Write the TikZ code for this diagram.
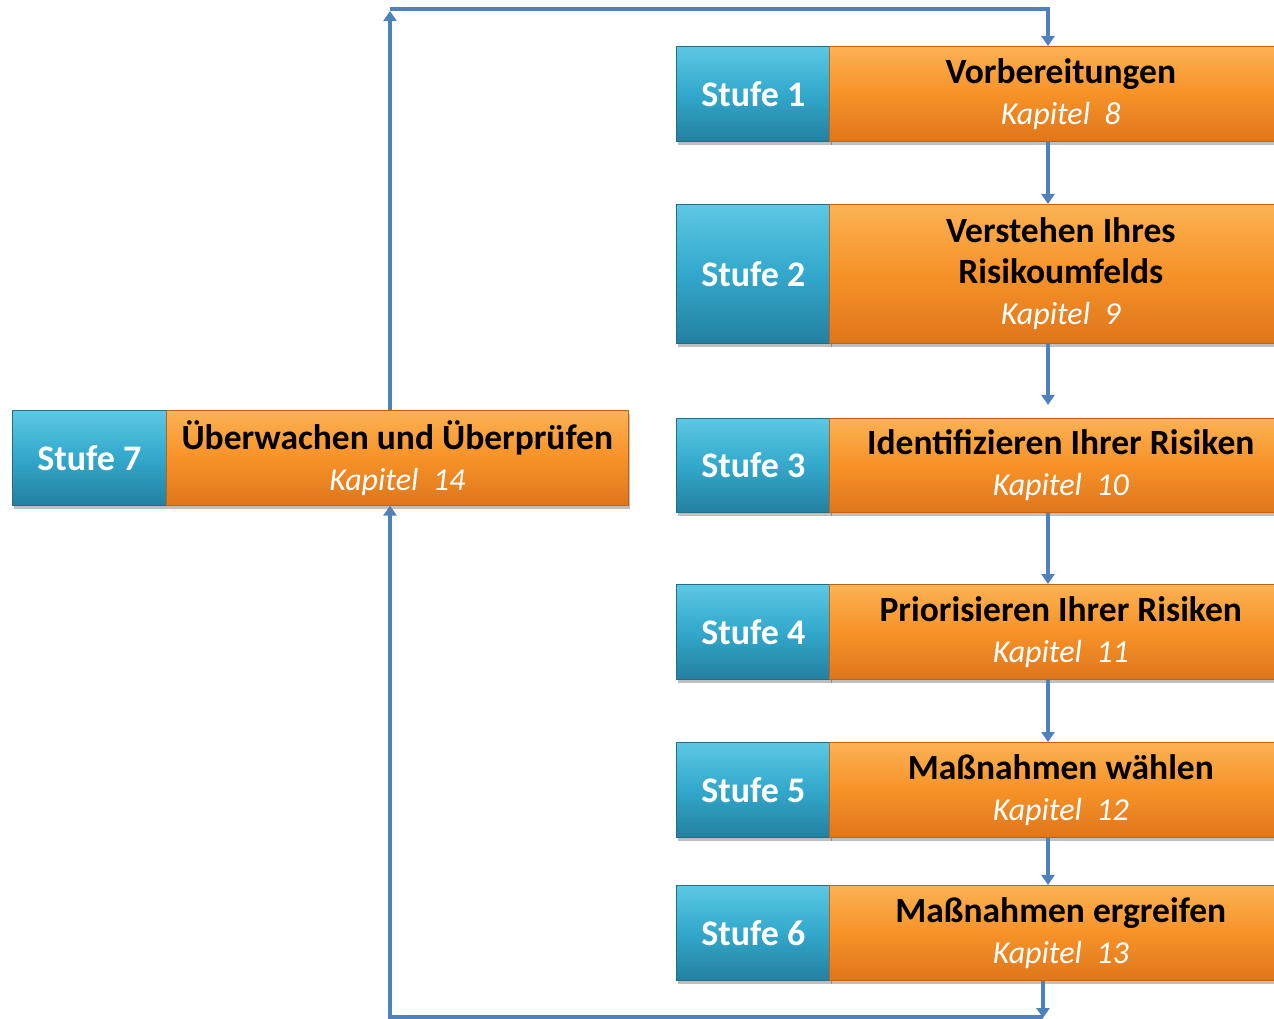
\documentclass[tikz,border=0pt]{standalone}
\usepackage{fontspec}
\setmainfont{Carlito}
\usetikzlibrary{arrows.meta,shadows}
\definecolor{tealA}{RGB}{92,200,228}
\definecolor{tealB}{RGB}{50,168,204}
\definecolor{tealC}{RGB}{36,128,160}
\definecolor{orA}{RGB}{252,178,84}
\definecolor{orB}{RGB}{247,146,40}
\definecolor{orC}{RGB}{222,118,28}
\definecolor{lineblue}{RGB}{79,129,189}
\newcommand{\kap}[1]{{\color{white}\fontsize{32}{41}\selectfont\mdseries\itshape Kapitel\hspace{0.45em}#1}}
\tikzset{
  boxbase/.style={rectangle, inner sep=0pt, anchor=north west,
    drop shadow={shadow xshift=2pt, shadow yshift=-4pt, opacity=0.25, fill=black}},
  stufebox/.style={boxbase, minimum width=154pt,
    top color=tealA, bottom color=tealC, middle color=tealB,
    draw=tealC!85!black, line width=0.6pt, text=white,
    font=\fontsize{36}{42}\selectfont\bfseries},
  titlebox/.style={boxbase, top color=orA, bottom color=orC, middle color=orB,
    draw=orC!85!black, line width=0.6pt, align=center, text=black,
    font=\fontsize{35.5}{41}\selectfont\bfseries},
  arr/.style={draw=lineblue, line width=3.2pt, line join=miter,
    -{Triangle[width=13pt,length=10pt]}},
}
\begin{document}
\begin{tikzpicture}[x=1pt,y=-1pt]
\useasboundingbox (0,0) rectangle (1274,1019);
\clip (0,0) rectangle (1274,1019);
% right column
\node[stufebox, minimum height=95pt]  (s1) at (676,46)  {Stufe 1};
\node[titlebox, minimum height=95pt, minimum width=463pt] (t1) at (829,46)
  {Vorbereitungen\\\kap{8}};
\node[stufebox, minimum height=139pt] (s2) at (676,204) {Stufe 2};
\node[titlebox, minimum height=139pt, minimum width=463pt] (t2) at (829,204)
  {Verstehen Ihres\\Risikoumfelds\\\kap{9}};
\node[stufebox, minimum height=94pt]  (s3) at (676,418) {Stufe 3};
\node[titlebox, minimum height=94pt, minimum width=463pt] (t3) at (829,418)
  {Identifizieren Ihrer Risiken\\\kap{10}};
\node[stufebox, minimum height=95pt]  (s4) at (676,584) {Stufe 4};
\node[titlebox, minimum height=95pt, minimum width=463pt] (t4) at (829,584)
  {Priorisieren Ihrer Risiken\\\kap{11}};
\node[stufebox, minimum height=95pt]  (s5) at (676,742) {Stufe 5};
\node[titlebox, minimum height=95pt, minimum width=463pt] (t5) at (829,742)
  {Maßnahmen wählen\\\kap{12}};
\node[stufebox, minimum height=95pt]  (s6) at (676,885) {Stufe 6};
\node[titlebox, minimum height=95pt, minimum width=463pt] (t6) at (829,885)
  {Maßnahmen ergreifen\\\kap{13}};
% left box
\node[stufebox, minimum height=95pt]  (s7) at (12,410) {Stufe 7};
\node[titlebox, minimum height=95pt, minimum width=462pt] (t7) at (166,410)
  {Überwachen und Überprüfen\\\kap{14}};
% connector guides
\coordinate (ax) at (1048,0);
\coordinate (bx) at (1043,0);
\coordinate (lx) at (390,0);
\coordinate (topL) at (390,9);
\coordinate (topR) at (1048,9);
\coordinate (botR) at (1043,1017);
\coordinate (botL) at (390,1017);
% connectors
\draw[arr] (t1.south -| ax) -- (t2.north -| ax);
\draw[arr, shorten >=13pt] (t2.south -| ax) -- (t3.north -| ax);
\draw[arr] (t3.south -| ax) -- (t4.north -| ax);
\draw[arr] (t4.south -| ax) -- (t5.north -| ax);
\draw[arr] (t5.south -| ax) -- (t6.north -| ax);
\draw[arr] (t6.south -| bx) -- ([yshift=-1pt]botR);
\draw[arr] (botR) -- (botL) -- (t7.south -| lx);
\draw[arr] (t7.north -| lx) -- ([yshift=-2pt]topL);
\draw[arr] (topL) -- (topR) -- (t1.north -| ax);
\end{tikzpicture}
\end{document}
